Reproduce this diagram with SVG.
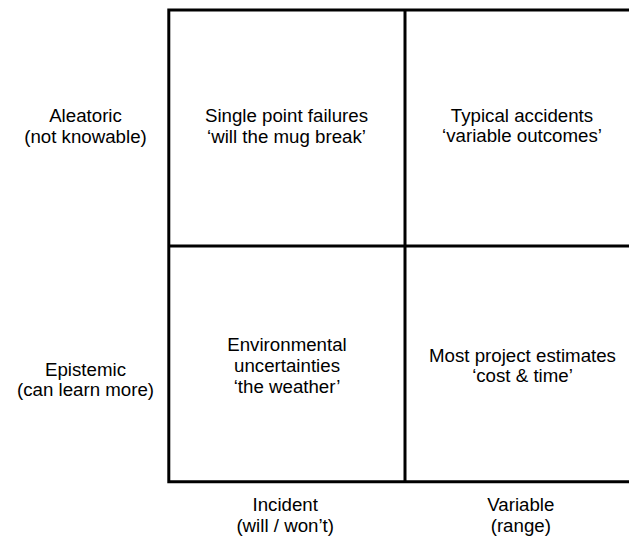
<svg xmlns="http://www.w3.org/2000/svg" width="629" height="539" viewBox="0 0 629 539">
  <style>
    text { font-family: "Liberation Sans", Arial, sans-serif; font-size: 18.7px; fill: #000; text-anchor: middle; }
    .grid { fill: none; stroke: #000; stroke-width: 3; }
  </style>
  <rect width="629" height="539" fill="#fff"/>

  <!-- 2x2 matrix frame; the right edge runs past the canvas -->
  <g id="grid">
    <path class="grid" d="M640 10 H168.8 V481.7 H640"/>
    <path class="grid" d="M405 10 V481.7"/>
    <path class="grid" d="M168.8 246 H640"/>
  </g>

  <!-- row headings -->
  <g id="row-aleatoric">
    <text x="85.5" y="122.3">Aleatoric</text>
    <text x="85.5" y="143">(not knowable)</text>
  </g>
  <g id="row-epistemic">
    <text x="85.5" y="375.7">Epistemic</text>
    <text x="85.5" y="396">(can learn more)</text>
  </g>

  <!-- cells -->
  <g id="cell-single-point">
    <text x="286.5" y="122.3">Single point failures</text>
    <text x="286.5" y="142.5">‘will the mug break’</text>
  </g>
  <g id="cell-typical-accidents">
    <text x="522" y="121.7">Typical accidents</text>
    <text x="522" y="142">‘variable outcomes’</text>
  </g>
  <g id="cell-environmental">
    <text x="287" y="351">Environmental</text>
    <text x="287" y="371.7">uncertainties</text>
    <text x="287" y="392.5">‘the weather’</text>
  </g>
  <g id="cell-project-estimates">
    <text x="522.5" y="361.7">Most project estimates</text>
    <text x="522.5" y="382.3">‘cost &amp; time’</text>
  </g>

  <!-- column headings -->
  <g id="col-incident">
    <text x="285.2" y="510.7">Incident</text>
    <text x="285.2" y="531.5">(will / won’t)</text>
  </g>
  <g id="col-variable">
    <text x="520.8" y="510.7">Variable</text>
    <text x="520.8" y="531.5">(range)</text>
  </g>
</svg>
